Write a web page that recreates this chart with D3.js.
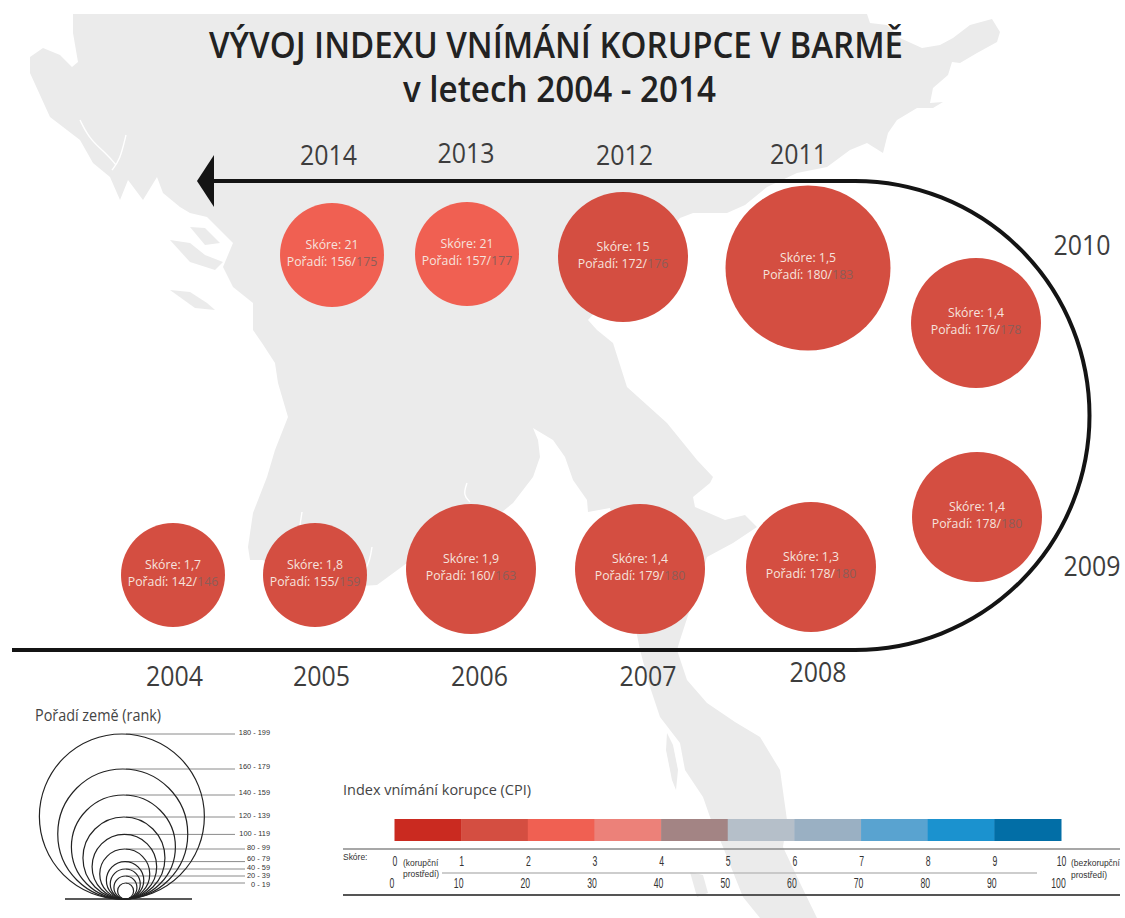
<!DOCTYPE html>
<html>
<head>
<meta charset="utf-8">
<script src="https://cdnjs.cloudflare.com/ajax/libs/d3/7.8.5/d3.min.js"></script>
<style>
body { margin: 0; background: #fff; }
text { font-family: "Open Sans", "Noto Sans", sans-serif; }
.tight text, text.tight { font-family: "Liberation Sans", Arial, sans-serif; }
</style>
</head>
<body>
<div id="chart"></div>
<script>
// data, in time order
var years = [2004, 2005, 2006, 2007, 2008, 2009, 2010, 2011, 2012, 2013, 2014]
var scoreLabels = ["1,7", "1,8", "1,9", "1,4", "1,3", "1,4", "1,4", "1,5", "15", "21", "21"]
var scores = [1.7, 1.8, 1.9, 1.4, 1.3, 1.4, 1.4, 1.5, 1.5, 2.1, 2.1]
var ranks = [142, 155, 160, 179, 178, 178, 176, 180, 172, 157, 156]
var totals = [146, 159, 163, 180, 180, 180, 178, 183, 176, 177, 175]

var rankBins = [20, 40, 60, 80, 100, 120, 140, 160, 180]
var rankLabels = ["0 - 19", "20 - 39", "40 - 59", "60 - 79", "80 - 99", "100 - 119", "120 - 139", "140 - 159", "160 - 179", "180 - 199"]
var cpiColors = ["#ca2a20", "#d44e41", "#f06052", "#ec8179", "#a38484", "#b5bfc9", "#9ab0c3", "#59a3d0", "#1b92cf", "#026ea6"]
var scoreTicks = [0, 1, 2, 3, 4, 5, 6, 7, 8, 9, 10]
var indexTicks = [0, 10, 20, 30, 40, 50, 60, 70, 80, 90, 100]

// backdrop map, traced by hand, not data
var mapOutline = [[73,14],[867,14],[870,23],[887,25],[900,38],[922,48],[940,45],[953,38],[970,25],[992,19],[1000,32],[997,42],[977,53],[960,63],[952,62],[948,75],[933,88],[930,103],[943,102],[933,108],[917,108],[897,120],[888,133],[883,153],[867,143],[850,150],[827,167],[797,173],[767,187],[745,205],[727,213],[693,213],[680,218],[588,320],[597,330],[613,343],[627,387],[667,423],[697,460],[713,477],[710,483],[693,497],[695,507],[725,520],[745,515],[757,527],[733,543],[707,557],[680,640],[677,650],[687,680],[707,703],[735,722],[760,737],[780,770],[787,820],[783,847],[800,883],[817,918],[760,918],[743,897],[723,847],[710,817],[703,797],[685,770],[680,743],[660,717],[650,687],[640,650],[630,600],[610,508],[588,512],[587,500],[573,480],[565,457],[553,440],[533,428],[538,440],[540,457],[533,477],[513,503],[480,530],[407,563],[377,585],[300,590],[263,560],[250,560],[248,547],[253,513],[267,477],[275,450],[288,417],[278,383],[275,363],[262,343],[253,330],[253,303],[233,287],[223,267],[233,243],[207,217],[190,213],[180,207],[163,193],[157,177],[143,200],[128,180],[120,200],[110,177],[93,163],[80,140],[50,117],[30,73],[30,57],[43,48],[60,55],[72,67],[78,62],[73,33]]
var mapIslands = [
  [[170,290],[190,292],[207,303],[215,310],[195,308]],
  [[170,240],[190,243],[205,255],[223,262],[215,270],[190,262]],
  [[190,227],[205,228],[220,243],[205,245]],
  [[667,733],[673,745],[678,770],[676,790],[672,780],[666,750]],
  [[690,872],[703,875],[708,893],[697,897]]
]
var mapInlets = [
  [[80,120],[90,140],[108,155],[116,165]],
  [[126,135],[120,160],[112,170]],
  [[302,512],[300,525]],
  [[467,483],[463,495],[470,502]],
  [[372,547],[370,560],[365,570]]
]

// layout
var xCircle = d3.scaleOrdinal().domain(years).range([173, 315, 471, 640, 811, 977, 976, 808, 623, 467, 332])
var yCircle = d3.scaleOrdinal().domain(years).range([575, 575, 569, 569, 567, 517, 323, 268, 257, 254, 255])
var xYear = d3.scaleOrdinal().domain(years).range([174.5, 321.5, 479.5, 648, 818, 1092, 1082, 798.5, 624.5, 466, 328.5])
var yYear = d3.scaleOrdinal().domain(years).range([686, 686, 686, 686, 682, 576, 255, 164, 165, 163, 165])
var rScale = d3.scaleThreshold().domain(rankBins).range([8, 11.5, 15, 18.7, 25, 32.3, 41, 52, 65, 82.5])
var colorScale = d3.scaleThreshold().domain(d3.range(1, 10)).range(cpiColors)
var xCpi = d3.scaleLinear().domain([0, 10]).range([394.5, 1061])
var yRankLabel = d3.scaleOrdinal().domain([0].concat(rankBins)).range([886.5, 878, 869.5, 861, 850, 836, 818, 795, 769, 735])

var width = 1125
var height = 918

var svg = d3.select("#chart")
    .append("svg")
    .attr("width", width)
    .attr("height", height)
    .style("display", "block")

// map
var mapLine = d3.line().curve(d3.curveLinearClosed)
var openLine = d3.line().curve(d3.curveBasis)
var map = svg.append("g").attr("fill", "#ebebeb")
map.append("path").attr("d", mapLine(mapOutline))
map.selectAll(".island")
    .data(mapIslands)
    .enter()
    .append("path")
    .attr("class", "island")
    .attr("d", function(d) { return mapLine(d) })
map.selectAll(".inlet")
    .data(mapInlets)
    .enter()
    .append("path")
    .attr("class", "inlet")
    .attr("fill", "none")
    .attr("stroke", "#fff")
    .attr("stroke-width", 1.4)
    .attr("d", function(d) { return openLine(d) })

// title
svg.append("text")
    .text("VÝVOJ INDEXU VNÍMÁNÍ KORUPCE V BARMĚ")
    .attr("x", 209)
    .attr("y", 58)
    .attr("font-size", 36)
    .attr("font-weight", 600)
    .attr("fill", "#222")
    .attr("textLength", 694)
    .attr("lengthAdjust", "spacingAndGlyphs")
svg.append("text")
    .text("v letech 2004 - 2014")
    .attr("x", 403)
    .attr("y", 102)
    .attr("font-size", 36)
    .attr("font-weight", 600)
    .attr("fill", "#222")
    .attr("textLength", 313)
    .attr("lengthAdjust", "spacingAndGlyphs")

// timeline
var r = 234.5
var cx = 855
var top_ = 181
var path = d3.path()
path.moveTo(12, top_ + 2 * r)
path.lineTo(cx, top_ + 2 * r)
path.arc(cx, top_ + r, r, Math.PI / 2, -Math.PI / 2, true)
path.lineTo(205, top_)
svg.append("path")
    .attr("d", path.toString())
    .attr("fill", "none")
    .attr("stroke", "#141414")
    .attr("stroke-width", 4)
svg.append("path")
    .attr("d", d3.line()([[197, top_], [214, 155], [214, 207]]))
    .attr("fill", "#141414")

// bubbles
var bubble = svg.selectAll(".bubble")
    .data(years)
    .enter()
    .append("g")
    .attr("class", "bubble")
    .attr("transform", function(d) { return "translate(" + xCircle(d) + "," + yCircle(d) + ")" })

bubble.append("circle")
    .attr("r", function(d, i) { return rScale(ranks[i]) })
    .attr("fill", function(d, i) { return colorScale(scores[i]) })

bubble.append("text")
    .text(function(d, i) { return "Skóre: " + scoreLabels[i] })
    .attr("y", -6.5)
    .attr("text-anchor", "middle")
    .attr("font-size", 12.3)
    .attr("fill", "#f6e3de")

var rankText = bubble.append("text")
    .attr("y", 11)
    .attr("text-anchor", "middle")
    .attr("font-size", 12.3)
    .attr("fill", "#f6e3de")
rankText.append("tspan")
    .text(function(d, i) { return "Pořadí: " + ranks[i] + "/" })
rankText.append("tspan")
    .text(function(d, i) { return totals[i] })
    .attr("fill", "#8c5d58")

// year labels
svg.selectAll(".year")
    .data(years)
    .enter()
    .append("text")
    .attr("class", "year")
    .text(function(d) { return d })
    .attr("x", function(d) { return xYear(d) })
    .attr("y", function(d) { return yYear(d) })
    .attr("text-anchor", "middle")
    .attr("font-size", 27)
    .attr("fill", "#3d3d3d")
    .attr("textLength", 57)
    .attr("lengthAdjust", "spacingAndGlyphs")

// rank legend
var legendX = 126
var legendBase = 899
svg.append("text")
    .text("Pořadí země (rank)")
    .attr("x", 35)
    .attr("y", 721)
    .attr("font-size", 16)
    .attr("fill", "#444")
    .attr("textLength", 126)
    .attr("lengthAdjust", "spacingAndGlyphs")

var binStarts = [0].concat(rankBins)
var rank = svg.selectAll(".rank")
    .data(binStarts)
    .enter()
    .append("g")
    .attr("class", "rank tight")

rank.append("line")
    .attr("x1", legendX)
    .attr("x2", function(d) { return d >= 100 ? 235 : 245 })
    .attr("y1", function(d) { return legendBase - 2 * rScale(d) })
    .attr("y2", function(d) { return legendBase - 2 * rScale(d) })
    .attr("stroke", "#8a8a8a")
    .attr("stroke-width", 1)

// the rings lean a little to the left as they grow
rank.append("circle")
    .attr("cx", function(d) { return legendX - rScale(d) * 0.05 })
    .attr("cy", function(d) { return legendBase - rScale(d) })
    .attr("r", function(d) { return rScale(d) })
    .attr("fill", "none")
    .attr("stroke", "#222")
    .attr("stroke-width", 1.2)

rank.append("text")
    .text(function(d, i) { return rankLabels[i] })
    .attr("x", 270)
    .attr("y", function(d) { return yRankLabel(d) })
    .attr("text-anchor", "end")
    .attr("font-size", 7.4)
    .attr("fill", "#333")

svg.append("line")
    .attr("x1", 65)
    .attr("x2", 192)
    .attr("y1", legendBase)
    .attr("y2", legendBase)
    .attr("stroke", "#222")
    .attr("stroke-width", 1.3)

// CPI legend
svg.append("text")
    .text("Index vnímání korupce (CPI)")
    .attr("x", 343)
    .attr("y", 795)
    .attr("font-size", 15)
    .attr("fill", "#444")
    .attr("textLength", 188)
    .attr("lengthAdjust", "spacingAndGlyphs")

svg.selectAll(".cpi")
    .data(cpiColors)
    .enter()
    .append("rect")
    .attr("class", "cpi")
    .attr("x", function(d, i) { return xCpi(i) })
    .attr("y", 819)
    .attr("width", function(d, i) { return xCpi(i + 1) - xCpi(i) + 0.5 })
    .attr("height", 22)
    .attr("fill", function(d) { return d })

var rules = [[343, 1120, 849, "#8a8a8a", 1.6], [442, 1037, 873, "#bdbdbd", 1.4], [343, 1120, 895, "#555", 2]]
svg.selectAll(".rule")
    .data(rules)
    .enter()
    .append("line")
    .attr("class", "rule")
    .attr("x1", function(d) { return d[0] })
    .attr("x2", function(d) { return d[1] })
    .attr("y1", function(d) { return d[2] })
    .attr("y2", function(d) { return d[2] })
    .attr("stroke", function(d) { return d[3] })
    .attr("stroke-width", function(d) { return d[4] })

var scoreAxis = d3.axisBottom(xCpi)
    .tickValues(scoreTicks)
    .tickSize(0)
    .tickPadding(0)
var indexAxis = d3.axisBottom(xCpi)
    .tickValues(scoreTicks)
    .tickFormat(function(d, i) { return indexTicks[i] })
    .tickSize(0)
    .tickPadding(0)

function styleAxis(g) {
    g.select(".domain").remove()
    g.attr("font-family", null)
    g.selectAll("text")
        .attr("font-size", 14)
        .attr("fill", "#333")
        .attr("transform", "scale(.62,1)")
}
svg.append("g").attr("class", "tight").attr("transform", "translate(0,856)").call(scoreAxis).call(styleAxis)
svg.append("g").attr("class", "tight").attr("transform", "translate(-3,878)").call(indexAxis).call(styleAxis)

var notes = [
    ["Skóre:", 343, 860],
    ["(korupční", 403, 866],
    ["prostředí)", 403, 877],
    ["(bezkorupční", 1071, 866],
    ["prostředí)", 1071, 878]
]
svg.selectAll(".note")
    .data(notes)
    .enter()
    .append("text")
    .attr("class", "note tight")
    .text(function(d) { return d[0] })
    .attr("transform", function(d) { return "translate(" + d[1] + "," + d[2] + ") scale(.9,1)" })
    .attr("font-size", 9.4)
    .attr("fill", "#333")
</script>
</body>
</html>
